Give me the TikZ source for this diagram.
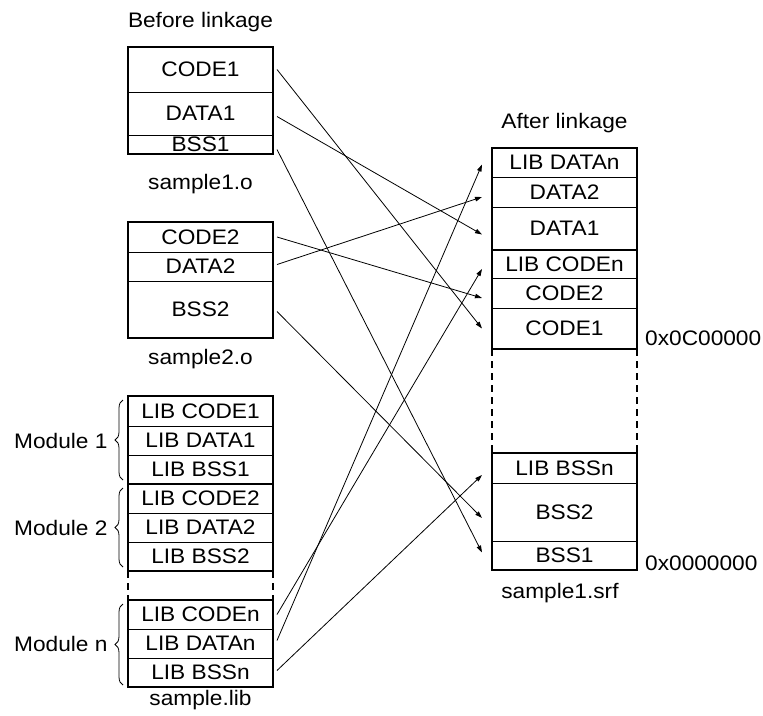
\documentclass[tikz,border=0pt]{standalone}
\usepackage{fontspec}
\setmainfont{Liberation Sans}[FakeStretch=1.08]
\usetikzlibrary{arrows.meta, positioning, calc, decorations.pathreplacing}

\tikzset{
  seg/.style={draw, line width=0.8pt, minimum width=145pt, minimum height=#1, inner sep=0pt, outer sep=0pt, anchor=north},
  frame/.style={line width=2pt},
  gap/.style={line width=2pt, dash pattern=on 7pt off 5pt},
  link/.style={line width=0.8pt, -{Triangle[length=7pt,width=4.5pt]}},
  modbrace/.style={decorate, decoration={brace, amplitude=8pt}, line width=0.8pt},
  addr/.style={anchor=base west, inner sep=1pt, xshift=7pt}
}

\begin{document}
\begin{tikzpicture}[x=1pt, y=-1pt, font=\fontsize{21}{24}\selectfont]
  \useasboundingbox (0,0) rectangle (763,715);

  % before linkage: objects
  \node[anchor=base] (before) at (200.5,27) {Before linkage};
  \node[seg=45] (code1) at (200.5,47) {CODE1};
  \node[seg=43, below=0pt of code1] (data1) {DATA1};
  \node[seg=19, below=0pt of data1] (bss1) {BSS1};
  \draw[frame] (code1.north west) rectangle (bss1.south east);
  \node[anchor=base] (obj1) at (200.5,189) {sample1.o};

  \node[seg=30] (code2) at (200.5,222) {CODE2};
  \node[seg=29, below=0pt of code2] (data2) {DATA2};
  \node[seg=57, below=0pt of data2] (bss2) {BSS2};
  \draw[frame] (code2.north west) rectangle (bss2.south east);
  \node[anchor=base] (obj2) at (200.5,364) {sample2.o};

  % library
  \node[seg=30] (lcode1) at (200.5,396) {LIB CODE1};
  \node[seg=29, below=0pt of lcode1] (ldata1) {LIB DATA1};
  \node[seg=29, below=0pt of ldata1] (lbss1) {LIB BSS1};
  \node[seg=29, below=0pt of lbss1] (lcode2) {LIB CODE2};
  \node[seg=29, below=0pt of lcode2] (ldata2) {LIB DATA2};
  \node[seg=29, below=0pt of ldata2] (lbss2) {LIB BSS2};
  \node[seg=29] (lcoden) at (200.5,600) {LIB CODEn};
  \node[seg=29, below=0pt of lcoden] (ldatan) {LIB DATAn};
  \node[seg=29, below=0pt of ldatan] (lbssn) {LIB BSSn};
  \draw[frame] (lcode1.north west) rectangle (lbss2.south east);
  \draw[frame] (lbss1.south west) -- (lbss1.south east);
  \draw[frame] (lcoden.north west) rectangle (lbssn.south east);
  \draw[gap] (lbss2.south west) -- (lcoden.north west);
  \draw[gap] (lbss2.south east) -- (lcoden.north east);
  \node[anchor=base] (lib) at (200.5,705) {sample.lib};

  \node[left=17pt of ldata1] (mod1) {Module 1};
  \node[left=17pt of ldata2] (mod2) {Module 2};
  \node[left=17pt of ldatan] (modn) {Module n};
  \draw[modbrace] ([xshift=-5pt,yshift=4pt]lbss1.south west) -- ([xshift=-5pt,yshift=-4pt]lcode1.north west);
  \draw[modbrace] ([xshift=-5pt,yshift=4pt]lbss2.south west) -- ([xshift=-5pt,yshift=-4pt]lcode2.north west);
  \draw[modbrace] ([xshift=-5pt,yshift=2pt]lbssn.south west) -- ([xshift=-5pt,yshift=-4pt]lcoden.north west);

  % after linkage
  \node[anchor=base] (after) at (564.5,128) {After linkage};
  \node[seg=29] (rdatan) at (564.5,148) {LIB DATAn};
  \node[seg=30, below=0pt of rdatan] (rdata2) {DATA2};
  \node[seg=43, below=0pt of rdata2] (rdata1) {DATA1};
  \node[seg=28, below=0pt of rdata1] (rcoden) {LIB CODEn};
  \node[seg=30, below=0pt of rcoden] (rcode2) {CODE2};
  \node[seg=41, below=0pt of rcode2] (rcode1) {CODE1};
  \node[seg=30] (rbssn) at (564.5,453) {LIB BSSn};
  \node[seg=58, below=0pt of rbssn] (rbss2) {BSS2};
  \node[seg=29, below=0pt of rbss2] (rbss1) {BSS1};
  \draw[frame] (rdatan.north west) rectangle (rcode1.south east);
  \draw[frame] (rdata1.south west) -- (rdata1.south east);
  \draw[frame] (rbssn.north west) rectangle (rbss1.south east);
  \draw[gap] (rcode1.south west) -- (rbssn.north west);
  \draw[gap] (rcode1.south east) -- (rbssn.north east);
  \node[anchor=base] (srf) at (560,598) {sample1.srf};
  \node[addr, yshift=4pt] (addrhi) at (rcode1.south east) {0x0C00000};
  \node[addr] (addrlo) at (rbss1.south east) {0x0000000};

  % links
  \draw[link] ([xshift=4pt]code1.east) -- ([xshift=-10pt]rcode1.west);
  \draw[link] ([xshift=4pt,yshift=-3pt]data1.east) -- ([xshift=-10pt,yshift=-6pt]rdata1.west);
  \draw[link] ([xshift=4pt,yshift=-5pt]bss1.east) -- ([xshift=-10pt,yshift=3pt]rbss1.west);
  \draw[link] ([xshift=4pt]code2.east) -- ([xshift=-10pt,yshift=-5pt]rcode2.west);
  \draw[link] ([xshift=4pt,yshift=2pt]data2.east) -- ([xshift=-10pt,yshift=-5pt]rdata2.west);
  \draw[link] ([xshift=4pt,yshift=-2pt]bss2.east) -- ([xshift=-10pt,yshift=-6pt]rbss2.west);
  \draw[link] ([xshift=4pt]lcoden.east) -- ([xshift=-10pt,yshift=-5pt]rcoden.west);
  \draw[link] ([xshift=4pt,yshift=3pt]ldatan.east) -- ([xshift=-10pt,yshift=-2pt]rdatan.west);
  \draw[link] ([xshift=4pt,yshift=2pt]lbssn.east) -- ([xshift=-10pt,yshift=-7pt]rbssn.west);
\end{tikzpicture}
\end{document}
